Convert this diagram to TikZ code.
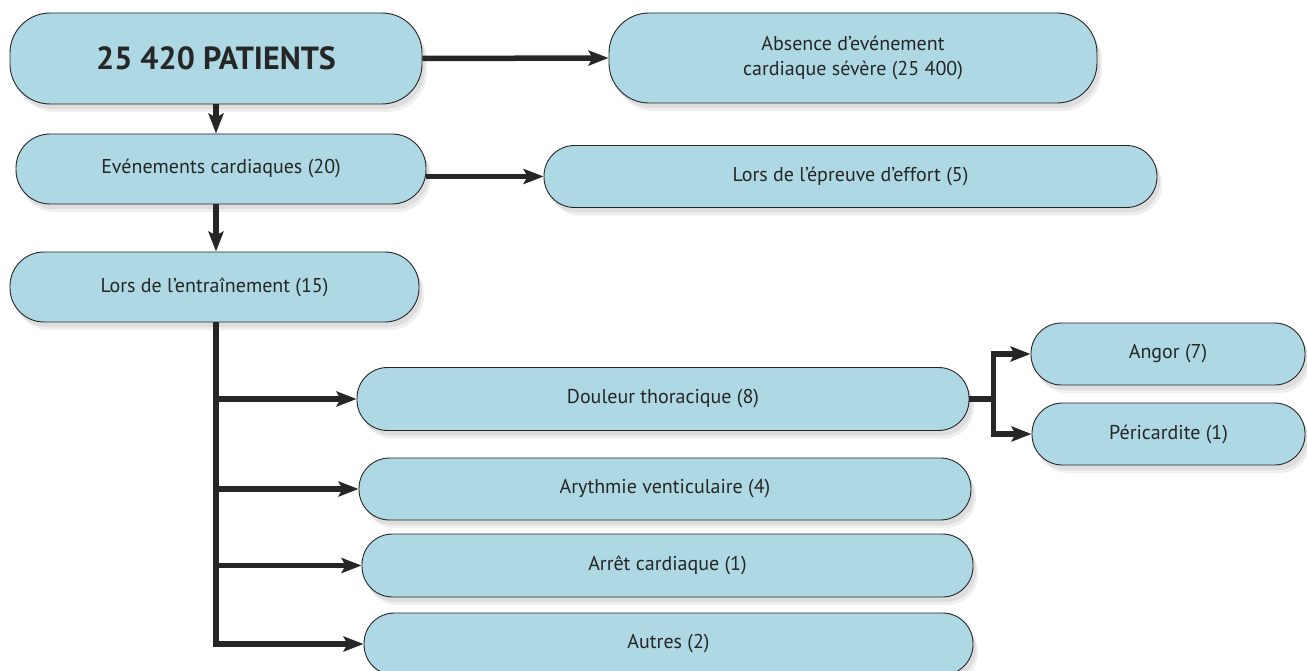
\documentclass[tikz,border=0pt]{standalone}
\usepackage{fontspec}
\setmainfont{PT Sans}
\usetikzlibrary{arrows.meta,shadows}
\definecolor{boxfill}{HTML}{ADD8E4}
\definecolor{linecol}{HTML}{262626}
\tikzset{
  box/.style={draw=linecol, line width=0.9pt, fill=boxfill, rectangle, rounded corners=30.5pt,
    align=center, font=\fontsize{20}{25}\selectfont, text=linecol,
    drop shadow={shadow xshift=5pt, shadow yshift=-8pt, opacity=0.10, fill=black!60},
    drop shadow={shadow xshift=3pt, shadow yshift=-5pt, opacity=0.12, fill=black!60},
    inner sep=0pt},
  conn/.style={draw=linecol, line width=5.5pt, -{Stealth[length=20pt,width=15pt,inset=4pt]}},
  plain/.style={draw=linecol, line width=5.5pt}
}
\begin{document}
\begin{tikzpicture}[x=1pt,y=-1pt]
\useasboundingbox[fill=white] (0,0) rectangle (1307,671);
\node[box, minimum width=412pt, minimum height=91pt, rounded corners=40pt,
  font=\fontsize{32}{36}\selectfont\bfseries] (P) at (216,58.5) {25 420 PATIENTS};
\node[box, minimum width=488pt, minimum height=90pt, rounded corners=40pt] (A) at (853,58) {Absence d’evénement\\cardiaque sévère (25 400)};
\node[box, minimum width=410pt, minimum height=70pt, rounded corners=34pt] (E) at (221,169) {Evénements cardiaques (20)};
\node[box, minimum width=613pt, minimum height=62pt] (LE) at (850.5,176.5) {Lors de l’épreuve d’effort (5)};
\node[box, minimum width=409pt, minimum height=70pt, rounded corners=34pt] (LT) at (214.5,287) {Lors de l’entraînement (15)};
\node[box, minimum width=612pt, minimum height=63pt] (D) at (663,399) {Douleur thoracique (8)};
\node[box, minimum width=274pt, minimum height=62pt] (An) at (1168,354) {Angor (7)};
\node[box, minimum width=273pt, minimum height=62pt] (Pe) at (1168.5,434) {Péricardite (1)};
\node[box, minimum width=612pt, minimum height=62pt] (Ar) at (665,489) {Arythmie venticulaire (4)};
\node[box, minimum width=611pt, minimum height=63pt] (Ac) at (667.5,565.5) {Arrêt cardiaque (1)};
\node[box, minimum width=609pt, minimum height=62pt] (Au) at (668.5,644) {Autres (2)};

\draw[conn] (P.east) -- (A.west);
\draw[conn] (P.south) -- (P.south |- E.north);
\draw[conn] (E.east |- LE.west) -- (LE.west);
\draw[conn] (P.south |- E.south) -- (P.south |- LT.north);
\coordinate (T) at (P.south |- LT.south);
\draw[plain] (T) -- (T |- Au.west);
\draw[conn] (T |- D.west) -- (D.west);
\draw[conn] (T |- Ar.west) -- (Ar.west);
\draw[conn] (T |- Ac.west) -- (Ac.west);
\draw[conn] ([xshift=-2.75pt]T |- Au.west) -- (Au.west);
\coordinate (J) at ([xshift=24pt]D.east);
\draw[plain] (D.east) -- (J);
\draw[conn] ([yshift=2.75pt]J |- Pe.west) |- (An.west);
\draw[conn] ([yshift=-2.75pt]J |- An.west) |- (Pe.west);
\end{tikzpicture}
\end{document}
